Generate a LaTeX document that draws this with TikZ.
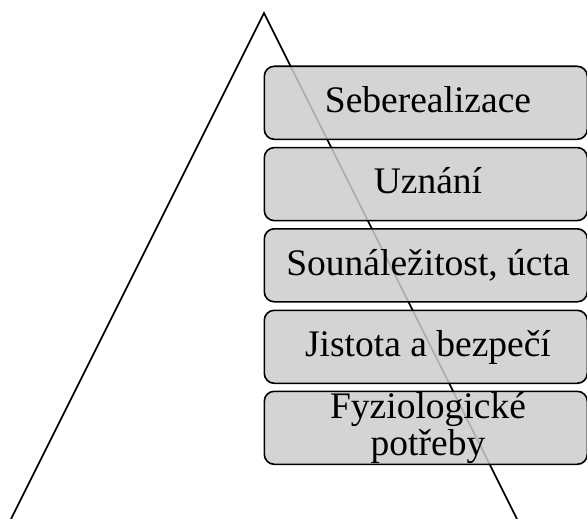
\documentclass[tikz,border=0pt]{standalone}
\usepackage{fontspec}
\setmainfont{Liberation Serif}
\definecolor{boxfill}{gray}{0.80}
\begin{document}
\begin{tikzpicture}[x=1pt,y=-1pt,
  tri/.style={draw=black,line width=1.6pt},
  levelbox/.style={draw=black,line width=1.6pt,rounded corners=10pt,fill=boxfill,fill opacity=0.85,
    minimum width=323pt,minimum height=73pt,inner sep=0pt,anchor=north west},
  leveltext/.style={anchor=base,inner sep=0pt,font=\fontsize{37.5}{40}\selectfont,text=black}]
\useasboundingbox (0,0) rectangle (587,519);
\coordinate (apex) at (264,13);
\coordinate (bl) at (11,519);
\coordinate (br) at (517,519);
\draw[tri] (bl) -- (apex) -- (br);
\node[levelbox] (b1) at (263.5,65.5) {};
\node[levelbox] (b2) at (263.5,146.8) {};
\node[levelbox] (b3) at (263.5,228) {};
\node[levelbox] (b4) at (263.5,309.5) {};
\node[levelbox] (b5) at (263.5,390.5) {};
\node[leveltext] (t1) at (428,113) {Seberealizace};
\node[leveltext] (t2) at (428,193.5) {Uznání};
\node[leveltext] (t3) at (428,275) {Sounáležitost, úcta};
\node[leveltext] (t4) at (428,356.5) {Jistota a bezpečí};
\node[leveltext] (t5a) at (428,418.5) {Fyziologické};
\node[leveltext] (t5b) at (428,455) {potřeby};
\end{tikzpicture}
\end{document}
